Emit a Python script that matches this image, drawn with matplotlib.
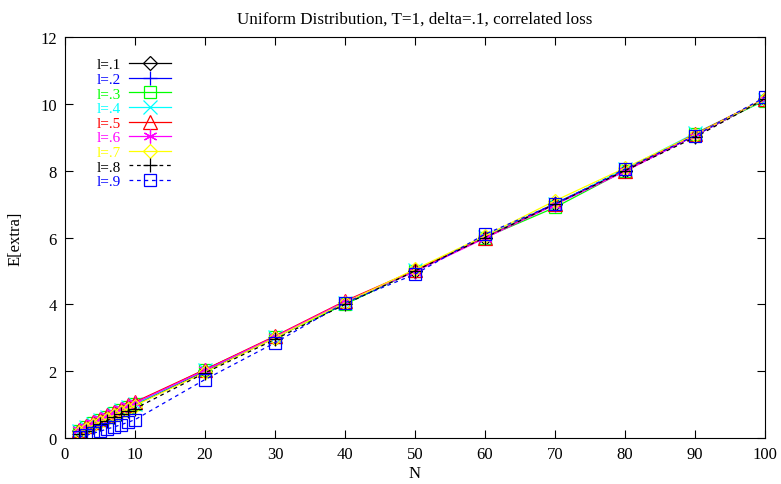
import matplotlib
matplotlib.use("Agg")
import matplotlib.pyplot as plt

plt.rcParams["font.family"] = ["Liberation Serif", "DejaVu Serif"]

N = [2, 3, 4, 5, 6, 7, 8, 9, 10, 20, 30, 40, 50, 60, 70, 80, 90, 100]

l1 = [0.20, 0.30, 0.40, 0.50, 0.60, 0.70, 0.80, 0.90, 1.00, 2.00, 3.00, 4.05, 5.00, 6.00, 7.00, 8.00, 9.05, 10.15]
l2 = [0.20, 0.31, 0.41, 0.51, 0.61, 0.71, 0.81, 0.91, 1.01, 2.02, 3.02, 4.05, 5.00, 6.02, 7.02, 8.02, 9.08, 10.15]
l3 = [0.22, 0.33, 0.44, 0.55, 0.64, 0.74, 0.84, 0.94, 1.03, 2.05, 3.02, 4.00, 5.00, 6.00, 6.90, 8.00, 9.10, 10.10]
l4 = [0.21, 0.32, 0.42, 0.53, 0.63, 0.73, 0.83, 0.93, 1.02, 2.03, 3.03, 4.05, 5.02, 6.02, 7.00, 8.05, 9.12, 10.12]
l5 = [0.25, 0.36, 0.47, 0.58, 0.68, 0.78, 0.88, 0.98, 1.08, 2.05, 3.05, 4.10, 5.02, 6.00, 7.00, 8.00, 9.10, 10.15]
l6 = [0.23, 0.34, 0.45, 0.56, 0.66, 0.76, 0.86, 0.96, 1.05, 2.03, 3.03, 4.08, 4.98, 5.98, 6.98, 7.98, 9.05, 10.15]
l7 = [0.18, 0.28, 0.38, 0.48, 0.58, 0.68, 0.78, 0.88, 0.97, 1.97, 3.00, 4.05, 5.05, 6.05, 7.10, 8.08, 9.08, 10.15]
l8 = [0.12, 0.22, 0.32, 0.42, 0.52, 0.62, 0.72, 0.80, 0.88, 1.95, 2.95, 4.00, 5.00, 6.00, 7.00, 8.00, 9.00, 10.15]
l9 = [0.02, 0.08, 0.14, 0.20, 0.27, 0.33, 0.40, 0.47, 0.55, 1.75, 2.85, 4.05, 4.90, 6.10, 7.00, 8.05, 9.05, 10.20]

labels = ["l=.1", "l=.2", "l=.3", "l=.4", "l=.5", "l=.6", "l=.7", "l=.8", "l=.9"]
series = [l1, l2, l3, l4, l5, l6, l7, l8, l9]

colors = ["black", "#0000ff", "#00ff00", "#00ffff", "#ff0000", "#ff00ff", "#ffff00", "black", "#0000ff"]
markers = ["D", "+", "s", "x", "^", (6, 2, 0), "D", "+", "s"]
msizes = [7, 10, 9, 10, 10, 10, 7, 10, 9]
styles = ["-", "-", "-", "-", "-", "-", "-", (0, (3, 3)), (0, (3, 3))]

fig = plt.figure(figsize=(7.81, 4.85), dpi=100)
ax = fig.add_axes([0.0832, 0.0948, 0.8963, 0.8268])

for ys, lab, c, m, ms, ls in zip(series, labels, colors, markers, msizes, styles):
    ax.plot(N, ys, color=c, marker=m, markersize=ms, markerfacecolor="none",
            markeredgecolor=c, markeredgewidth=0.9, linewidth=0.9, linestyle=ls,
            label=lab)

ax.set_xlim(0, 100)
ax.set_ylim(0, 12)
ax.set_xticks(range(0, 101, 10))
ax.set_yticks(range(0, 13, 2))
ax.tick_params(direction="in", length=6, width=0.8, top=True, right=True,
               labelsize=12, pad=6)
for s in ax.spines.values():
    s.set_linewidth(0.8)

ax.set_xlabel("N", fontsize=12, labelpad=2)
ax.set_ylabel("E[extra]", fontsize=12, labelpad=12)
ax.set_title("Uniform Distribution, T=1, delta=.1, correlated loss",
             fontsize=12.3, pad=10)

leg = ax.legend(loc="upper left", bbox_to_anchor=(0.03, 0.975), frameon=False,
                markerfirst=False, fontsize=11, handlelength=2.75,
                handletextpad=0.55, labelspacing=0.06, borderpad=0.2)
for txt, c in zip(leg.get_texts(), colors):
    txt.set_color(c)

fig.savefig("out.png", dpi=100)
